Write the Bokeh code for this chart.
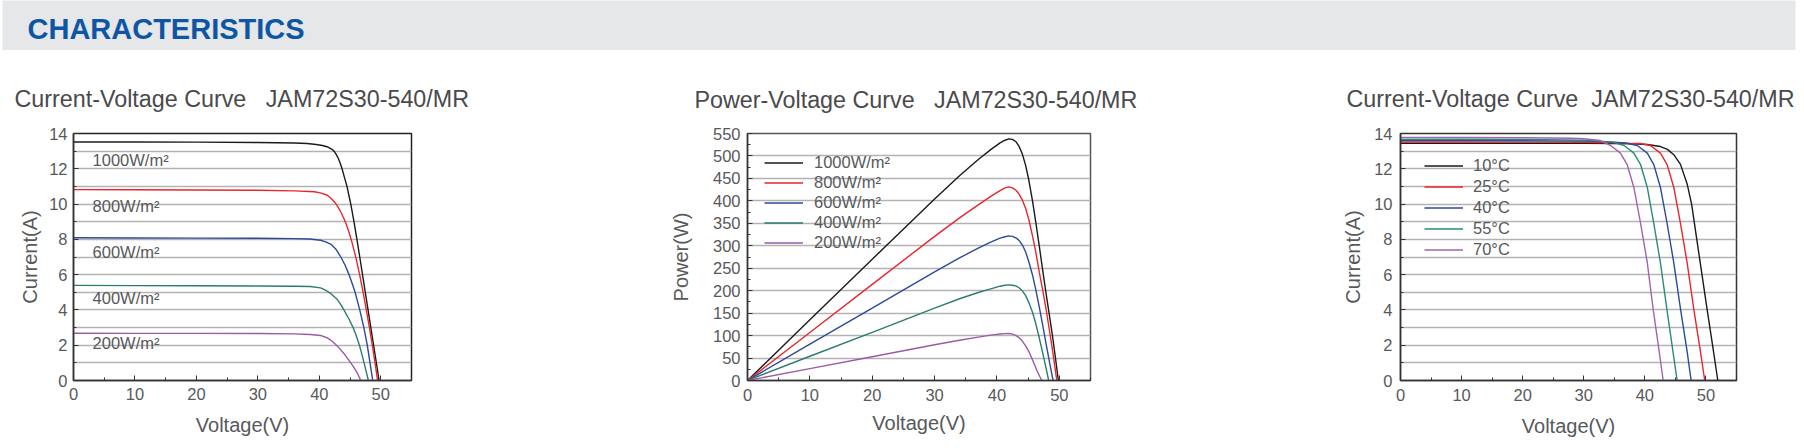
from bokeh.plotting import figure
from bokeh.models import Range1d, Label, Legend, LegendItem, Title, FixedTicker, ColumnDataSource
from bokeh.layouts import column, row
from bokeh.embed import file_html
from bokeh.resources import INLINE
from bokeh.core.properties import value

# ---------------- data ----------------
# Chart 1: I-V curves at different irradiance
irr_labels = ["1000W/m²", "800W/m²", "600W/m²", "400W/m²", "200W/m²"]
iv_v_1000 = [0, 10, 20, 30, 36, 38, 39.5, 40.5, 41.25, 42.0, 42.4, 42.75, 43.1, 43.4, 43.7, 44.1, 44.5, 44.81, 45.12,
             45.64, 46.12, 46.58, 47.03, 47.48, 47.93, 48.38, 48.83, 49.28, 49.72]
iv_i_1000 = [13.52, 13.52, 13.51, 13.49, 13.46, 13.43, 13.38, 13.32, 13.25, 13.12, 13.0, 12.82, 12.58, 12.31, 12.0, 11.5,
             11.0, 10.5, 10.0, 9.0, 8.0, 7.0, 6.0, 5.0, 4.0, 3.0, 2.0, 1.0, 0.0]
iv_v_800 = [0, 10, 20, 30, 36, 39.2, 40.3, 41.3, 41.9, 42.56, 43.0, 43.5, 44.0, 44.4, 44.8, 45.25, 45.6, 45.98, 46.6,
            47.15, 47.65, 48.15, 48.6, 49.03, 49.48]
iv_i_800 = [10.82, 10.81, 10.8, 10.78, 10.75, 10.7, 10.62, 10.5, 10.33, 10.08, 9.86, 9.55, 9.18, 8.84, 8.43, 7.91, 7.45,
            6.92, 5.93, 4.95, 4.0, 3.0, 2.05, 1.08, 0.0]
iv_v_600 = [0, 10, 20, 30, 36, 38.5, 40.2, 41.05, 41.9, 42.7, 43.5, 44.2, 44.84, 45.35, 45.82, 46.58, 47.25, 47.8,
            48.25, 48.69]
iv_i_600 = [8.09, 8.08, 8.07, 8.06, 8.04, 8.02, 7.95, 7.86, 7.72, 7.44, 7.0, 6.53, 6.0, 5.5, 5.0, 4.0, 3.0, 2.0, 1.0,
            0.0]
iv_v_400 = [0, 10, 20, 30, 36, 38.5, 40.2, 41.0, 41.7, 42.9, 43.5, 44.0, 44.8, 45.5, 46.0, 46.55, 46.95, 47.28, 47.63,
            47.98]
iv_i_400 = [5.39, 5.38, 5.37, 5.36, 5.34, 5.33, 5.25, 5.12, 4.97, 4.6, 4.3, 4.0, 3.5, 3.0, 2.55, 1.97, 1.45, 1.0, 0.5,
            0.0]
iv_v_200 = [0, 10, 20, 30, 36, 38.5, 40.23, 41.3, 41.85, 42.4, 43.2, 44.03, 44.7, 45.38, 45.8, 46.2, 46.74]
iv_i_200 = [2.68, 2.67, 2.67, 2.66, 2.64, 2.61, 2.55, 2.42, 2.29, 2.12, 1.85, 1.52, 1.2, 0.87, 0.64, 0.41, 0.0]

# Chart 2: P-V curves at different irradiance
pv_v_1000 = [0, 10, 20, 30, 34, 37, 39, 40.5, 41.3, 41.9, 42.5, 43.1, 43.6, 44.1, 44.6, 45.1, 45.7, 46.2, 46.8, 47.35,
             47.9, 48.4, 48.9, 49.4, 49.85]
pv_p_1000 = [0, 135, 270, 404, 456, 492, 514, 529, 535, 538, 537, 531, 520, 503, 479, 447, 400, 355, 298, 244, 192,
             146, 100, 48, 0]
pv_v_800 = [0, 10, 20, 30, 34, 37, 39, 40.5, 41.3, 41.9, 42.5, 43.1, 43.6, 44.1, 44.6, 45.1, 45.7, 46.2, 46.8, 47.35,
            47.9, 48.4, 48.9, 49.6]
pv_p_800 = [0, 107, 214, 321, 362, 391, 410, 423, 429, 431, 429, 423, 414, 401, 383, 359, 322, 288, 240, 200, 157, 113,
            68, 0]
pv_v_600 = [0, 10, 20, 30, 34, 37, 39, 40.5, 41.3, 41.9, 42.5, 43.1, 43.6, 44.1, 44.6, 45.1, 45.7, 46.2, 46.8, 47.35,
            47.9, 48.45, 49.0]
pv_p_600 = [0, 81, 161, 242, 273, 295, 308, 317, 320, 322, 321, 317, 311, 301, 286, 265, 235, 204, 163, 122, 80, 39, 0]
pv_v_400 = [0, 10, 20, 30, 34, 37, 39, 40.5, 41.3, 41.9, 42.5, 43.1, 43.6, 44.1, 44.6, 45.1, 45.7, 46.2, 46.8, 47.2,
            47.6, 48.3]
pv_p_400 = [0, 54, 107, 161, 182, 196, 204, 210, 212, 213, 212, 210, 206, 199, 189, 174, 152, 128, 94, 70, 45, 0]
pv_v_200 = [0, 10, 20, 30, 34, 37, 39, 40.5, 41.3, 41.8, 42.4, 43.0, 43.5, 44.0, 44.6, 45.1, 45.7, 46.1, 46.5, 46.85,
            47.2]
pv_p_200 = [0, 26.5, 53, 79.5, 89.5, 96.5, 101, 103.6, 104.4, 104.6, 103.8, 100.5, 96, 89, 77, 65, 46, 33, 19.5, 9.5,
            0]

# Chart 3: I-V curves at different cell temperature
temp_labels = ["10°C", "25°C", "40°C", "55°C", "70°C"]
t_v_10 = [0, 10, 20, 30, 35, 38, 40.4, 42.55, 43.7, 44.74, 45.83, 46.92, 47.65, 48.5, 49.35, 50.2, 51.08, 51.94]
t_i_10 = [13.45, 13.45, 13.45, 13.44, 13.43, 13.41, 13.38, 13.26, 13.1, 12.8, 12.25, 11.14, 10.0, 8.0, 6.0, 4.0, 2.0,
          0.0]
t_v_25 = [0, 10, 20, 30, 35, 37, 39.3, 40.9, 42.55, 43.64, 44.74, 45.83, 46.92, 48.0, 49.1, 49.8]
t_i_25 = [13.52, 13.52, 13.51, 13.5, 13.47, 13.45, 13.43, 13.32, 12.89, 12.24, 10.94, 8.9, 6.67, 4.06, 1.64, 0.0]
t_v_40 = [0, 10, 20, 30, 33, 35, 37.1, 38.75, 40.4, 41.46, 42.55, 43.64, 44.74, 45.83, 46.92, 47.57]
t_i_40 = [13.6, 13.6, 13.59, 13.57, 13.54, 13.5, 13.45, 13.32, 12.89, 12.24, 10.94, 8.9, 6.67, 4.06, 1.64, 0.0]
t_v_55 = [0, 10, 20, 30, 32, 34.9, 36.6, 38.2, 39.3, 40.4, 41.46, 42.55, 43.6, 44.6, 45.28]
t_i_55 = [13.67, 13.67, 13.66, 13.62, 13.58, 13.5, 13.32, 12.89, 12.24, 10.94, 8.9, 6.67, 4.06, 1.64, 0.0]
t_v_70 = [0, 10, 20, 28, 30, 32.7, 34.4, 36.0, 37.1, 38.2, 39.3, 40.4, 41.35, 42.35, 43.0]
t_i_70 = [13.78, 13.77, 13.76, 13.73, 13.7, 13.6, 13.32, 12.89, 12.24, 10.94, 8.9, 6.67, 4.06, 1.64, 0.0]

x_ticks = [0, 10, 20, 30, 40, 50]
x_minor = [5, 15, 25, 35, 45, 55]
i_ticks = [0, 2, 4, 6, 8, 10, 12, 14]
i_minor = [1, 3, 5, 7, 9, 11, 13]
p_ticks = [0, 50, 100, 150, 200, 250, 300, 350, 400, 450, 500, 550]
p_minor = [25, 75, 125, 175, 225, 275, 325, 375, 425, 475, 525]

# ---------------- styles ----------------
FONT = "Liberation Sans"
GREY = "#58595b"
TITLE_GREY = "#4a4a4c"
COLORS = ["#1a1a1a", "#e8262d", "#2b4a9b", "#2a7d6e", "#9a5aa6"]
COLORS_T = ["#1a1a1a", "#e8262d", "#2b4a9b", "#2a8a78", "#a064b0"]
GRID = "#b3b3b3"

header = figure(width=1804, height=50, x_range=Range1d(0, 1793), y_range=Range1d(0, 50),
                toolbar_location=None, output_backend="svg", title=None,
                min_border_left=2, min_border_right=9, min_border_top=0, min_border_bottom=0,
                x_axis_location=None, y_axis_location=None,
                background_fill_color="#e6e7e8", border_fill_color="white", outline_line_color=None)
header.grid.visible = False
header.add_layout(Label(x=25, y=6, text="CHARACTERISTICS", text_font=FONT, text_font_size="29px",
                        text_font_style="bold", text_color="#0d56a6"))


def make_fig(width, ml, mr, mt, mb, ymax, yticks, yminor, ylabel, title, t_offset, t_standoff,
             ylab_standoff, xlab_standoff, xml_standoff, yml_standoff, minor_grid, outline):
    p = figure(width=width, height=398, x_range=Range1d(0, 55), y_range=Range1d(0, ymax),
               toolbar_location=None, output_backend="svg", title=None,
               min_border_left=ml, min_border_right=mr, min_border_top=mt, min_border_bottom=mb,
               background_fill_color="white", border_fill_color="white")
    p.outline_line_color = outline
    p.outline_line_width = 1.5
    p.xaxis.ticker = FixedTicker(ticks=x_ticks, minor_ticks=x_minor)
    p.yaxis.ticker = FixedTicker(ticks=yticks, minor_ticks=yminor)
    p.xgrid.visible = False
    p.ygrid.grid_line_color = GRID
    p.ygrid.grid_line_width = 1.3
    if minor_grid:
        p.ygrid.minor_grid_line_color = GRID
        p.ygrid.minor_grid_line_width = 1.3
    for ax in (p.xaxis[0], p.yaxis[0]):
        ax.major_tick_in = 5
        ax.major_tick_out = 0
        ax.minor_tick_in = 3
        ax.minor_tick_out = 0
        ax.axis_line_color = "#333333"
        ax.axis_line_width = 1.5
        ax.major_tick_line_color = "#333333"
        ax.minor_tick_line_color = "#333333"
        ax.major_label_text_font = FONT
        ax.major_label_text_font_size = "16.5px"
        ax.major_label_text_color = GREY
        ax.axis_label_text_font = FONT
        ax.axis_label_text_font_size = "20px"
        ax.axis_label_text_color = GREY
        ax.axis_label_text_font_style = "normal"
    p.xaxis.axis_label = "Voltage(V)"
    p.yaxis.axis_label = ylabel
    p.xaxis.axis_label_standoff = xlab_standoff
    p.yaxis.axis_label_standoff = ylab_standoff
    p.xaxis.major_label_standoff = xml_standoff
    p.yaxis.major_label_standoff = yml_standoff
    t = Title(text=title, align="left", offset=t_offset, standoff=t_standoff, text_font=FONT,
              text_font_size="23.3px", text_color=TITLE_GREY, text_font_style="normal")
    p.add_layout(t, "above")
    return p


NB = "\u00a0"
# ---- chart 1 ----
f1 = make_fig(560, 73, 149, 83, 64, 14, i_ticks, i_minor, "Current(A)",
              "Current-Voltage Curve" + NB * 3 + "JAM72S30-540/MR", -59, 43, 5, 11, 7, 6, True, "#222222")
iv_series = [(iv_v_1000, iv_i_1000), (iv_v_800, iv_i_800), (iv_v_600, iv_i_600),
             (iv_v_400, iv_i_400), (iv_v_200, iv_i_200)]
for (vv, ii), c in zip(iv_series, COLORS):
    f1.line(vv, ii, line_color=c, line_width=1.4)
label_y = [12.5, 9.9, 7.3, 4.7, 2.1]
src = ColumnDataSource(dict(x=[3.1] * 5, y=label_y, t=irr_labels))
f1.text(x="x", y="y", text="t", source=src, text_font=value(FONT), text_font_size="16.5px",
        text_color=GREY, text_baseline="middle", text_align="left")

# ---- chart 2 ----
f2 = make_fig(640, 187, 110, 76, 68, 550, p_ticks, p_minor, "Power(W)",
              "Power-Voltage Curve" + NB * 3 + "JAM72S30-540/MR", -53, 41, 18, 8, 8, 7, False, "#555555")
pv_series = [(pv_v_1000, pv_p_1000), (pv_v_800, pv_p_800), (pv_v_600, pv_p_600),
             (pv_v_400, pv_p_400), (pv_v_200, pv_p_200)]
items2 = []
for (vv, pp), c, lab in zip(pv_series, COLORS, irr_labels):
    r = f2.line(vv, pp, line_color=c, line_width=1.4)
    items2.append(LegendItem(label=lab, renderers=[r]))
leg2 = Legend(items=items2, location=(17, 128), padding=0, margin=0, spacing=1,
              glyph_width=39, glyph_height=19, label_height=19, label_standoff=11,
              label_text_font=FONT, label_text_font_size="16.5px", label_text_color=GREY,
              border_line_color=None, background_fill_alpha=0)
f2.add_layout(leg2)

# ---- chart 3 ----
f3 = make_fig(604, 200, 68, 83, 64, 14, i_ticks, i_minor, "Current(A)",
              "Current-Voltage Curve" + NB * 2 + "JAM72S30-540/MR", -54, 43, 7, 11, 8, 8, True, "#333333")
t_series = [(t_v_10, t_i_10), (t_v_25, t_i_25), (t_v_40, t_i_40), (t_v_55, t_i_55), (t_v_70, t_i_70)]
items3 = []
for (vv, ii), c, lab in zip(t_series, COLORS_T, temp_labels):
    r = f3.line(vv, ii, line_color=c, line_width=1.4)
    items3.append(LegendItem(label=lab, renderers=[r]))
leg3 = Legend(items=items3, location=(24, 121), padding=0, margin=0, spacing=2,
              glyph_width=39, glyph_height=19, label_height=19, label_standoff=10,
              label_text_font=FONT, label_text_font_size="16.5px", label_text_color=GREY,
              border_line_color=None, background_fill_alpha=0)
f3.add_layout(leg3)

layout = column(header, row(f1, f2, f3, spacing=0), spacing=0)
open("out.html", "w").write(file_html(layout, INLINE))
